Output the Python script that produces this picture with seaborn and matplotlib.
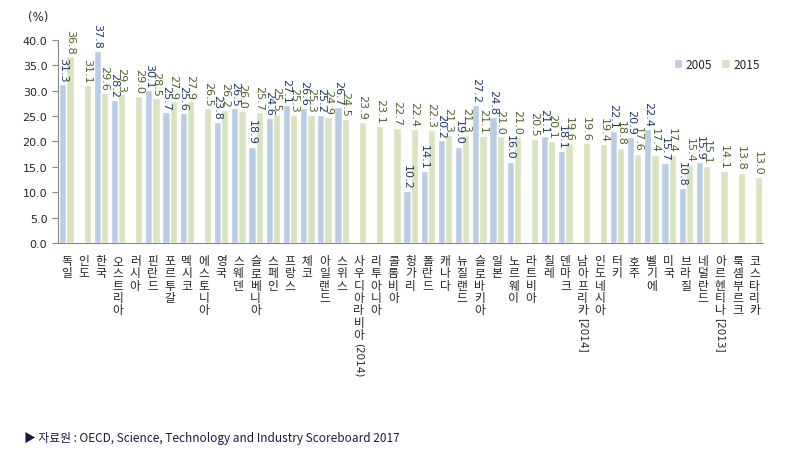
import numpy as np
import pandas as pd
import matplotlib
matplotlib.use("Agg")
import matplotlib.pyplot as plt
import seaborn as sns

# 국가별 값 (%)
countries = ["독일", "인도", "한국", "오스트리아", "러시아", "핀란드", "포르투갈", "멕시코",
             "에스토니아", "영국", "스웨덴", "슬로베니아", "스페인", "프랑스", "체코", "아일랜드",
             "스위스", "사우디아라비아(2014)", "리투아니아", "콜롬비아", "헝가리", "폴란드", "캐나다",
             "뉴질랜드", "슬로바키아", "일본", "노르웨이", "라트비아", "칠레", "덴마크",
             "남아프리카[2014]", "인도네시아", "터키", "호주", "벨기에", "미국", "브라질", "네덜란드",
             "아르헨티나[2013]", "룩셈부르크", "코스타리카"]
v2005 = [31.3, None, 37.8, 28.2, None, 30.1, 25.7, 25.6,
         None, 23.8, 26.5, 18.9, 24.6, 27.1, 26.6, 25.2,
         26.7, None, None, None, 10.2, 14.1, 20.2,
         19.0, 27.2, 24.8, 16.0, None, 21.1, 18.1,
         None, None, 22.1, 20.9, 22.4, 15.7, 10.8, 15.9,
         None, None, None]
v2015 = [36.8, 31.1, 29.6, 29.3, 29.0, 28.5, 27.9, 27.9,
         26.5, 26.2, 26.0, 25.7, 25.5, 25.3, 25.3, 24.9,
         24.5, 23.9, 23.1, 22.7, 22.4, 22.3, 21.3,
         21.3, 21.1, 21.0, 21.0, 20.5, 20.1, 19.6,
         19.6, 19.4, 18.8, 17.6, 17.4, 17.4, 15.4, 15.1,
         14.1, 13.8, 13.0]
years = ["2005", "2015"]
bar_colors = ["#B9CDE5", "#D7E4BD"]
label_colors = ["#1F3864", "#4F6228"]

rows = []
for c, a, b in zip(countries, v2005, v2015):
    if a is not None:
        rows.append({"country": c, "year": "2005", "value": a})
    rows.append({"country": c, "year": "2015", "value": b})
df = pd.DataFrame(rows)

sns.set_style("white")
plt.rcParams["font.family"] = ["Noto Sans CJK KR", "DejaVu Sans"]

fig = plt.figure(figsize=(7.91, 4.64), dpi=100)
ax = fig.add_axes([0.073, 0.474, 0.892, 0.438])

sns.barplot(data=df, x="country", y="value", hue="year", hue_order=years,
            order=countries, palette=bar_colors, width=0.84, ax=ax,
            saturation=1, errorbar=None)

for cont, col in zip(ax.containers, label_colors):
    ax.bar_label(cont, fmt="%.1f", rotation=270, padding=2, fontsize=8,
                 color=col, family="DejaVu Sans", clip_on=False)

ax.set_ylim(0, 40)
ax.set_yticks(np.arange(0, 40.1, 5))
ax.set_yticklabels([f"{t:.1f}" for t in np.arange(0, 40.1, 5)],
                   fontsize=8, family="DejaVu Sans")
ax.set_xlim(-0.5, len(countries) - 0.5)
ax.set_xlabel("")
ax.set_ylabel("")

# stacked Korean tick labels, year part rotated below
base_names = []
year_parts = []
for c in countries:
    cut = min([i for i in (c.find("("), c.find("[")) if i >= 0], default=-1)
    if cut >= 0:
        base_names.append(c[:cut])
        year_parts.append(c[cut:])
    else:
        base_names.append(c)
        year_parts.append("")
ax.set_xticks(range(len(countries)))
ax.set_xticklabels(["\n".join(b) for b in base_names], fontsize=8.5,
                   linespacing=0.93, va="top")
ax.tick_params(axis="x", which="major", length=0, pad=8)
ax.set_xticks(np.arange(-0.5, len(countries), 1), minor=True)
ax.tick_params(axis="x", which="minor", length=4, color="#888888", direction="out")
ax.tick_params(axis="y", length=4, color="#888888", direction="out", left=True)

line_pt = 8.9
for i, (b, yp) in enumerate(zip(base_names, year_parts)):
    if yp:
        ax.annotate(yp, xy=(i, 0), xycoords=("data", "axes fraction"),
                    xytext=(0, -9 - len(b) * line_pt), textcoords="offset points",
                    rotation=270, ha="center", va="top", fontsize=7.5,
                    family="DejaVu Sans")

sns.despine(ax=ax, top=True, right=True)
for s in ["left", "bottom"]:
    ax.spines[s].set_color("#888888")
    ax.spines[s].set_linewidth(0.8)

leg = ax.legend(loc="upper right", bbox_to_anchor=(1.01, 0.965), frameon=False,
                ncol=2, fontsize=8.5, handlelength=0.7, handleheight=0.9,
                handletextpad=0.3, columnspacing=0.8)

fig.text(0.035, 0.955, "(%)", fontsize=8.5, family="DejaVu Sans")
fig.text(0.03, 0.047, "▶ 자료원 : OECD, Science, Technology and Industry Scoreboard 2017",
         fontsize=8.5, color="#1a1a40")

fig.savefig("out.png", dpi=100)
